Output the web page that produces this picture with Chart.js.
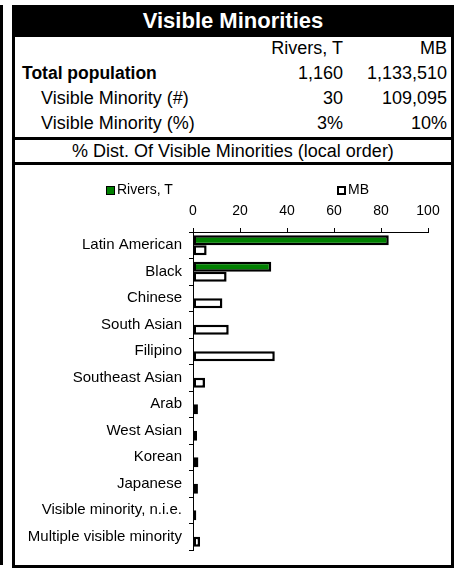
<!DOCTYPE html>
<html><head><meta charset="utf-8">
<script src="https://cdn.jsdelivr.net/npm/chart.js@4.4.1/dist/chart.umd.min.js"></script>
<style>
html,body{margin:0;padding:0;background:#fff;width:461px;height:568px;overflow:hidden;font-family:"Liberation Sans",Arial,sans-serif;}
.abs{position:absolute;}
#strip{left:0;top:5px;width:2.5px;height:560px;background:#000;}
#frame{left:12px;top:5px;width:442px;height:563px;border:3px solid #000;box-sizing:border-box;}
#title{left:12px;top:5px;width:442px;height:32px;background:#000;color:#fff;font-weight:bold;font-size:22px;line-height:32px;text-align:center;}
.row{left:15px;width:436px;height:24px;line-height:24px;font-size:18px;color:#000;white-space:nowrap;}
.lab{position:absolute;left:7px;}
.lab2{position:absolute;left:26px;}
.c1{position:absolute;right:108px;}
.c2{position:absolute;right:4px;}
.hl{left:15px;width:436px;height:3px;background:#000;}
#dist{left:15px;top:140px;width:436px;height:22px;line-height:22px;font-size:18px;text-align:center;white-space:nowrap;}
#wrap{left:15px;top:165px;width:436px;height:401px;}
.lg{position:absolute;font-size:14px;line-height:16px;white-space:nowrap;color:#000;}
.lgbox{display:inline-block;width:9px;height:9px;box-sizing:border-box;vertical-align:-1px;margin-right:2px;}
</style>
</head>
<body>
<div id="strip" class="abs"></div>
<div id="frame" class="abs"></div>
<div id="title" class="abs">Visible Minorities</div>
<div class="abs row" style="top:36px;"><span class="c1">Rivers, T</span><span class="c2">MB</span></div>
<div class="abs row" style="top:61px;"><span class="lab" style="font-weight:bold;font-size:17.5px;">Total population</span><span class="c1">1,160</span><span class="c2">1,133,510</span></div>
<div class="abs row" style="top:86px;"><span class="lab2">Visible Minority (#)</span><span class="c1">30</span><span class="c2">109,095</span></div>
<div class="abs row" style="top:111px;"><span class="lab2">Visible Minority (%)</span><span class="c1">3%</span><span class="c2">10%</span></div>
<div class="abs hl" style="top:137px;"></div>
<div id="dist" class="abs">% Dist. Of Visible Minorities (local order)</div>
<div class="abs hl" style="top:162px;"></div>
<div id="wrap" class="abs"><canvas id="c" width="436" height="401"></canvas></div>
<div id="legend"></div>
<script>
const categories = ["Latin American","Black","Chinese","South Asian","Filipino","Southeast Asian","Arab","West Asian","Korean","Japanese","Visible minority, n.i.e.","Multiple visible minority"];
const seriesNames = ["Rivers, T","MB"];
const riversValues = [83.3,33.3,0,0,0,0,0,0,0,0,0,0];
const mbValues = [5.8,14.3,12.5,15.2,34.8,5.1,2.1,1.7,2.3,2.1,1.4,3.0];
const xTicks = [0,20,40,60,80,100];
const seriesColors = ["#008000","#ffffff"];

const FAM = '"Liberation Sans", Arial, sans-serif';
const bw = c => (c.raw === 0 ? 0 : 2.5);

const chart = new Chart(document.getElementById('c'), {
  type: 'bar',
  data: {
    labels: categories,
    datasets: [
      {label: seriesNames[0], data: riversValues, backgroundColor: seriesColors[0], borderColor: '#000', borderWidth: bw, borderSkipped: false, barPercentage: 1, categoryPercentage: 0.76},
      {label: seriesNames[1], data: mbValues, backgroundColor: seriesColors[1], borderColor: '#000', borderWidth: bw, borderSkipped: false, barPercentage: 1, categoryPercentage: 0.76}
    ]
  },
  options: {
    indexAxis: 'y',
    responsive: false,
    animation: false,
    layout: {padding: {left: 0, right: 23, top: 0, bottom: 9}},
    plugins: {legend: {display: false}, tooltip: {enabled: false}},
    scales: {
      x: {
        position: 'top', min: 0, max: 100,
        afterBuildTicks: s => { s.ticks = xTicks.map(v => ({value: v})); },
        ticks: {font: {size: 14, family: FAM}, color: '#000', padding: 8, maxRotation: 0},
        grid: {drawOnChartArea: false, drawTicks: true, tickLength: 4, color: '#000'},
        border: {color: '#000', width: 1},
        afterFit: s => { s.height = 67; }
      },
      y: {
        ticks: {font: {size: 15, family: FAM}, color: '#000', padding: 7, autoSkip: false},
        grid: {drawOnChartArea: false, drawTicks: true, tickLength: 4, color: '#000', offset: true},
        border: {color: '#000', width: 1},
        afterFit: s => { s.width = 178; }
      }
    }
  }
});

// HTML legend built from the chart datasets
const lg = document.getElementById('legend');
const lgPos = [[106, 181], [337, 181]];
chart.data.datasets.forEach((ds, i) => {
  const d = document.createElement('div');
  d.className = 'lg';
  d.style.left = lgPos[i][0] + 'px';
  d.style.top = lgPos[i][1] + 'px';
  const b = document.createElement('span');
  b.className = 'lgbox';
  b.style.background = ds.backgroundColor;
  b.style.border = (i === 0 ? '1px' : '2px') + ' solid #000';
  d.appendChild(b);
  d.appendChild(document.createTextNode(ds.label));
  lg.appendChild(d);
});
</script>
</body></html>
